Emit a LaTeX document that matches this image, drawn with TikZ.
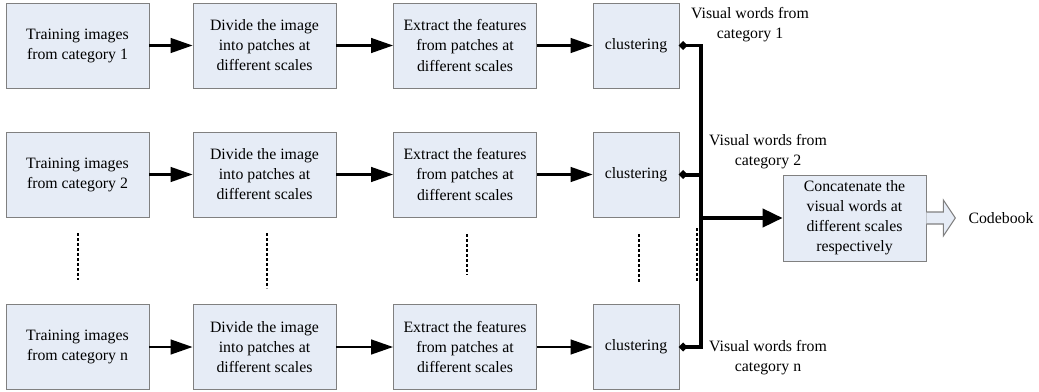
\documentclass[tikz,border=0pt]{standalone}
\usepackage{fontspec}
\setmainfont{Liberation Serif}
\usetikzlibrary{arrows.meta}

\definecolor{boxfill}{RGB}{230,236,246}
\definecolor{boxline}{RGB}{128,128,128}

\begin{document}
\begin{tikzpicture}[x=0.02cm,y=-0.02cm,
  font=\fontsize{9}{11.4}\selectfont,
  stage/.style={rectangle,draw=boxline,fill=boxfill,minimum width=2.86cm,minimum height=1.7cm,align=center},
  cluster/.style={stage,minimum width=1.72cm},
  flow/.style={-{Triangle[length=0.44cm,width=0.29cm]},line width=0.054cm},
  bus/.style={line width=0.08cm},
  vdots/.style={line width=0.05cm,dash pattern=on 0.06cm off 0.04cm},
  label/.style={align=center}]

  \useasboundingbox (0,0) rectangle (1039,392);

  % Define the rows
  \def\rowa{45.5}
  \def\rowb{174.5}
  \def\rown{347}

  % Draw the first row
  \node[stage]   (train1)   at (77.5,\rowa)  {Training images\\from category 1};
  \node[stage]   (divide1)  at (264.5,\rowa) {Divide the image\\into patches at\\different scales};
  \node[stage]   (extract1) at (465,\rowa)   {Extract the features\\from patches at\\different scales};
  \node[cluster] (cluster1) at (636,\rowa)   {clustering};

  % Draw the second row
  \node[stage]   (train2)   at (77.5,\rowb)  {Training images\\from category 2};
  \node[stage]   (divide2)  at (264.5,\rowb) {Divide the image\\into patches at\\different scales};
  \node[stage]   (extract2) at (465,\rowb)   {Extract the features\\from patches at\\different scales};
  \node[cluster] (cluster2) at (636,\rowb)   {clustering};

  % Draw the last row
  \node[stage]   (trainn)   at (77.5,\rown)  {Training images\\from category n};
  \node[stage]   (dividen)  at (264.5,\rown) {Divide the image\\into patches at\\different scales};
  \node[stage]   (extractn) at (465,\rown)   {Extract the features\\from patches at\\different scales};
  \node[cluster] (clustern) at (636,\rown)   {clustering};

  % Draw the arrows along the rows
  \draw[flow] (train1) -- (divide1);
  \draw[flow] (divide1) -- (extract1);
  \draw[flow] (extract1) -- (cluster1);
  \draw[flow] (train2) -- (divide2);
  \draw[flow] (divide2) -- (extract2);
  \draw[flow] (extract2) -- (cluster2);
  \draw[flow] (trainn) -- (dividen);
  \draw[flow] (dividen) -- (extractn);
  \draw[flow] (extractn) -- (clustern);

  % Draw the dots between the rows
  \draw[vdots] (78,233) -- (78,280);
  \draw[vdots] (267,233) -- (267,288);
  \draw[vdots] (467,234) -- (467,275);
  \draw[vdots] (639,234) -- (639,282);
  \draw[vdots] (697,228) -- (697,282);

  % Draw the bus
  \coordinate (bustop) at (700.5,\rowa);
  \coordinate (busmid) at (700.5,218);
  \coordinate (busbot) at (700.5,\rown);
  \draw[bus,{Circle[length=0.15cm]}-{Circle[length=0.15cm]}] (cluster1.east) -- (bustop) -- (busbot) -- (clustern.east);
  \draw[bus,{Circle[length=0.15cm]}-] (cluster2.east) -- (700.5,\rowb);

  % Draw the labels of the visual words
  \node[label] (words1) at (750,25)  {Visual words from\\category 1};
  \node[label] (words2) at (768,152) {Visual words from\\category 2};
  \node[label] (wordsn) at (768,358) {Visual words from\\category n};

  % Draw the concatenation
  \node[stage,minimum height=1.72cm] (concat) at (854.5,218) {Concatenate the\\visual words at\\different scales\\respectively};
  \draw[bus,-{Triangle[length=0.4cm,width=0.36cm]}] (busmid) -- (concat.west);

  % Draw the output
  \draw[draw=boxline,fill=boxfill,line width=0.6pt] (concat.east) ++(0,-6) -- ++(17,0) -- ++(0,-12) -- ++(12,18) -- ++(-12,18) -- ++(0,-12) -- ++(-17,0);
  \node (codebook) at (1001,218) {Codebook};

\end{tikzpicture}
\end{document}
